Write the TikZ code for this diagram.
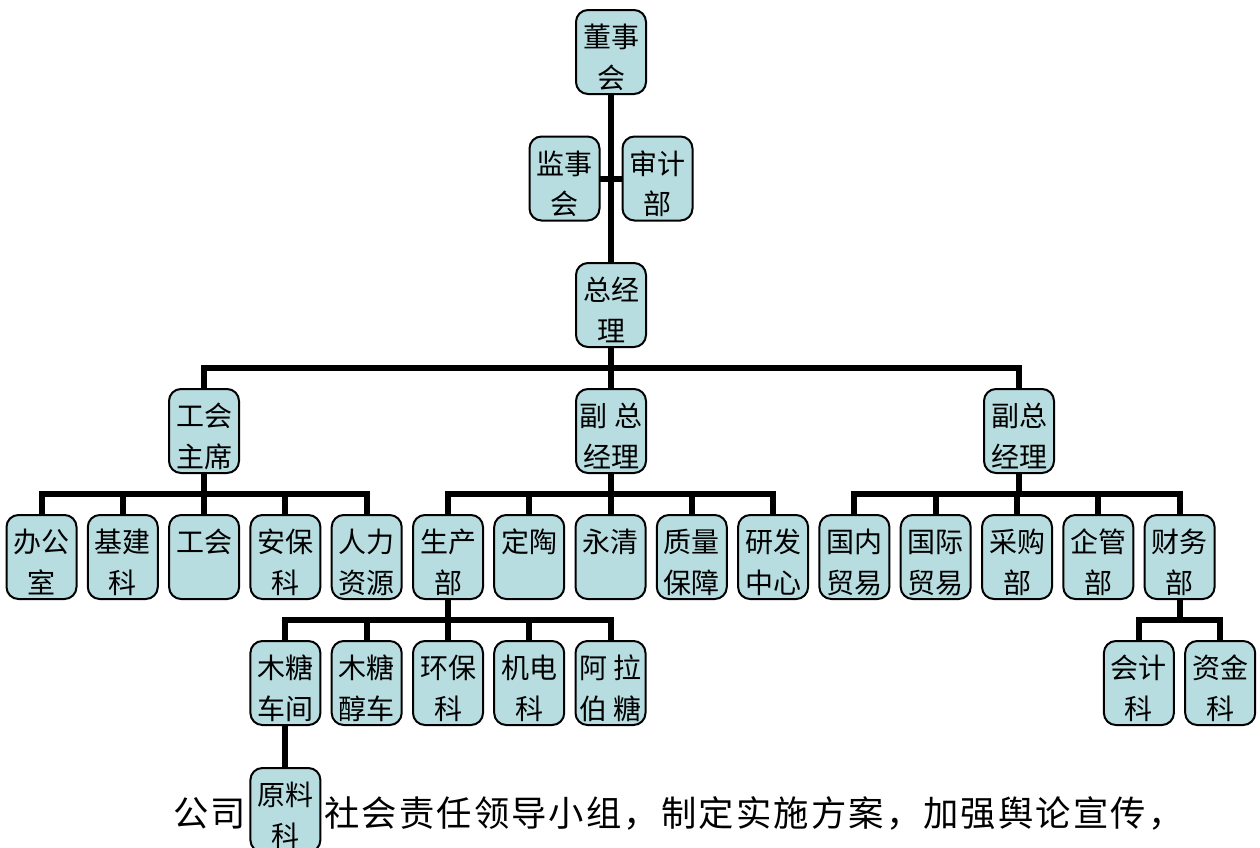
\documentclass[tikz,border=0pt]{standalone}
\usepackage{fontspec}
\newfontfamily\cjk{Noto Sans CJK SC}
\newfontfamily\cjkls{Noto Sans CJK SC}[LetterSpace=6]
\usetikzlibrary{backgrounds}
\definecolor{boxfill}{HTML}{B7DDE1}
\newcommand\bxt[1]{\parbox[t][63pt][t]{52.5pt}{\centering\cjk\fontsize{21pt}{30.5pt}\selectfont\rule{0pt}{28.2pt}#1\par}}
\tikzset{
  orgbox/.style={draw=black, line width=1.5pt, fill=boxfill, rounded corners=9pt, inner sep=0pt, outer sep=0pt},
  conn/.style={draw=black, line width=4.5pt, line join=miter},
}
\begin{document}
\begin{tikzpicture}[x=0.75pt,y=-0.75pt]
\useasboundingbox (0,0) rectangle (1260,847);
\clip (0,0) rectangle (1260,847);
% top
\node[orgbox] (dsh) at (611,52) {\bxt{董事\\会}};
\node[orgbox] (jsh) at (564.5,178.5) {\bxt{监事\\会}};
\node[orgbox] (sjb) at (657.5,178.5) {\bxt{审计\\部}};
\node[orgbox] (zjl) at (611,305) {\bxt{总经\\理}};
% level 2
\node[orgbox] (ghzx) at (204,431) {\bxt{工会\\主席}};
\node[orgbox] (fza) at (611,431) {\bxt{副 总\\经理}};
\node[orgbox] (fzb) at (1019,431) {\bxt{副总\\经理}};
% level 3
\node[orgbox] (bgs) at (41.5,557) {\bxt{办公\\室}};
\node[orgbox] (jjk) at (122.8,557) {\bxt{基建\\科}};
\node[orgbox] (gh) at (204.1,557) {\bxt{工会}};
\node[orgbox] (abk) at (285.4,557) {\bxt{安保\\科}};
\node[orgbox] (rlzy) at (366.7,557) {\bxt{人力\\资源}};
\node[orgbox] (scb) at (448,557) {\bxt{生产\\部}};
\node[orgbox] (dt) at (529.2,557) {\bxt{定陶}};
\node[orgbox] (yq) at (610.5,557) {\bxt{永清}};
\node[orgbox] (zlbz) at (691.8,557) {\bxt{质量\\保障}};
\node[orgbox] (yfzx) at (773.1,557) {\bxt{研发\\中心}};
\node[orgbox] (gnmy) at (854.4,557) {\bxt{国内\\贸易}};
\node[orgbox] (gjmy) at (935.7,557) {\bxt{国际\\贸易}};
\node[orgbox] (cgb) at (1017,557) {\bxt{采购\\部}};
\node[orgbox] (qgb) at (1098.3,557) {\bxt{企管\\部}};
\node[orgbox] (cwb) at (1179.6,557) {\bxt{财务\\部}};
% level 4
\node[orgbox] (mtcj) at (285.4,683) {\bxt{木糖\\车间}};
\node[orgbox] (mtcc) at (366.7,683) {\bxt{木糖\\醇车}};
\node[orgbox] (hbk) at (448,683) {\bxt{环保\\科}};
\node[orgbox] (jdk) at (529.2,683) {\bxt{机电\\科}};
\node[orgbox] (albt) at (610.5,683) {\bxt{阿 拉\\伯 糖}};
\node[orgbox] (kjk) at (1138.9,683) {\bxt{会计\\科}};
\node[orgbox] (zjk) at (1220.2,683) {\bxt{资金\\科}};
% level 5
\node[orgbox] (ylk) at (285.4,810) {\bxt{原料\\科}};
% text
\node[anchor=base west, inner sep=0pt] (gs) at (173,826) {\cjkls\fontsize{26.5pt}{30pt}\selectfont 公司};
\node[anchor=base west, inner sep=0pt] (shzr) at (324,826) {\cjkls\fontsize{26.5pt}{30pt}\selectfont 社会责任领导小组，制定实施方案，加强舆论宣传，};
% connectors
\begin{pgfonlayer}{background}
\draw[conn] (dsh.south) -- (zjl.north);
\draw[conn] (jsh.east) -- (sjb.west);
\foreach \c in {ghzx,fza,fzb} \draw[conn] (zjl.south) -- ++(0,21) -| (\c.north);
\foreach \c in {bgs,jjk,gh,abk,rlzy} \draw[conn] (ghzx.south) -- ++(0,21) -| (\c.north);
\foreach \c in {scb,dt,yq,zlbz,yfzx} \draw[conn] (fza.south) -- ++(0,21) -| (\c.north);
\foreach \c in {gnmy,gjmy,cgb,qgb,cwb} \draw[conn] (fzb.south) -- ++(0,21) -| (\c.north);
\foreach \c in {mtcj,mtcc,hbk,jdk,albt} \draw[conn] (scb.south) -- ++(0,21) -| (\c.north);
\foreach \c in {kjk,zjk} \draw[conn] (cwb.south) -- ++(0,21) -| (\c.north);
\draw[conn] (mtcj.south) -- (ylk.north);
\end{pgfonlayer}
\end{tikzpicture}
\end{document}
